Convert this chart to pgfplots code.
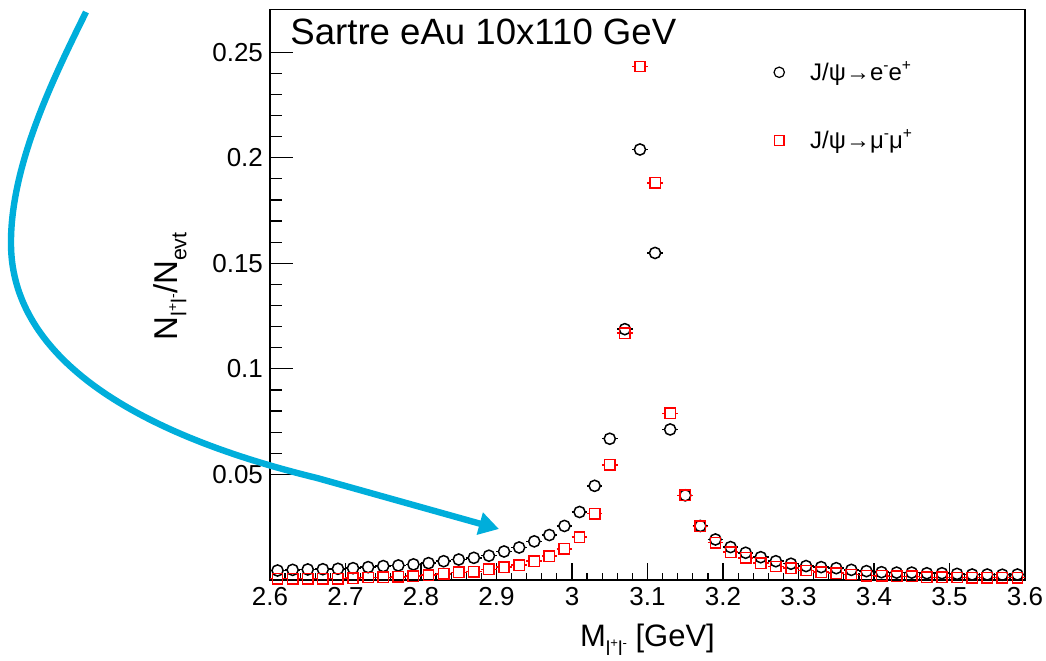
\documentclass[border=0pt]{standalone}
\usepackage{fontspec}
\setmainfont{Liberation Sans}
\usepackage{pgfplots}
\pgfplotsset{compat=1.18}
\usetikzlibrary{arrows.meta}
\definecolor{arrowblue}{RGB}{0,174,219}
\definecolor{rootred}{RGB}{255,0,0}
\newcommand\Sup[1]{\raisebox{0.42em}{\scalebox{0.65}{#1}}}
\newcommand\Sub[1]{\raisebox{-0.28em}{\scalebox{0.65}{#1}}}
\pgfdeclareplotmark{ostub}{%
  \pgfpathcircle{\pgfpointorigin}{\pgfplotmarksize}%
  \pgfusepathqstroke
  \pgfpathmoveto{\pgfqpoint{-3.9pt}{0pt}}\pgfpathlineto{\pgfqpoint{-\pgfplotmarksize}{0pt}}%
  \pgfpathmoveto{\pgfqpoint{\pgfplotmarksize}{0pt}}\pgfpathlineto{\pgfqpoint{3.9pt}{0pt}}%
  \pgfusepathqstroke}
\pgfdeclareplotmark{sqstub}{%
  \pgfpathrectanglecorners{\pgfqpoint{-\pgfplotmarksize}{-\pgfplotmarksize}}{\pgfqpoint{\pgfplotmarksize}{\pgfplotmarksize}}%
  \pgfusepathqstroke
  \pgfpathmoveto{\pgfqpoint{-3.9pt}{0pt}}\pgfpathlineto{\pgfqpoint{-\pgfplotmarksize}{0pt}}%
  \pgfpathmoveto{\pgfqpoint{\pgfplotmarksize}{0pt}}\pgfpathlineto{\pgfqpoint{3.9pt}{0pt}}%
  \pgfusepathqstroke}
\pgfplotstableread{
x y
2.61 0.0045
2.63 0.0048
2.65 0.0050
2.67 0.0051
2.69 0.0053
2.71 0.0056
2.73 0.0061
2.75 0.0066
2.77 0.0069
2.79 0.0074
2.81 0.0080
2.83 0.0089
2.85 0.0097
2.87 0.0105
2.89 0.0115
2.91 0.0135
2.93 0.0154
2.95 0.0183
2.97 0.0213
2.99 0.0256
3.01 0.0322
3.03 0.0446
3.05 0.0669
3.07 0.1188
3.09 0.2039
3.11 0.1549
3.13 0.0713
3.15 0.0401
3.17 0.0256
3.19 0.0192
3.21 0.0156
3.23 0.0129
3.25 0.0108
3.27 0.0089
3.29 0.0077
3.31 0.0066
3.33 0.0061
3.35 0.0056
3.37 0.0048
3.39 0.0042
3.41 0.0037
3.43 0.0035
3.45 0.0035
3.47 0.0032
3.49 0.0032
3.51 0.0029
3.53 0.0026
3.55 0.0026
3.57 0.0025
3.59 0.0026
}\eedata
\pgfplotstableread{
x y
2.61 0.0006
2.63 0.0006
2.65 0.0006
2.67 0.0006
2.69 0.0006
2.71 0.0009
2.73 0.0012
2.75 0.0013
2.77 0.0015
2.79 0.0018
2.81 0.0023
2.83 0.0029
2.85 0.0036
2.87 0.0040
2.89 0.0050
2.91 0.0061
2.93 0.0070
2.95 0.0089
2.97 0.0113
2.99 0.0148
3.01 0.0203
3.03 0.0314
3.05 0.0545
3.07 0.1169
3.09 0.2432
3.11 0.1881
3.13 0.0789
3.15 0.0401
3.17 0.0254
3.19 0.0177
3.21 0.0132
3.23 0.0105
3.25 0.0080
3.27 0.0064
3.29 0.0056
3.31 0.0045
3.33 0.0037
3.35 0.0032
3.37 0.0026
3.39 0.0021
3.41 0.0020
3.43 0.0017
3.45 0.0017
3.47 0.0013
3.49 0.0013
3.51 0.0012
3.53 0.0011
3.55 0.0011
3.57 0.0011
3.59 0.0011
}\mumudata
\begin{document}
\begin{tikzpicture}
\useasboundingbox (0,0) rectangle (523pt,330pt);
\begin{axis}[
  at={(135pt,40pt)}, anchor=south west,
  scale only axis, width=377.5pt, height=285.25pt,
  xmin=2.6, xmax=3.6, ymin=0, ymax=0.2702,
  xtick={2.6,2.7,2.8,2.9,3.0,3.1,3.2,3.3,3.4,3.5,3.6},
  xticklabels={2.6,2.7,2.8,2.9,3,3.1,3.2,3.3,3.4,3.5,3.6},
  ytick={0.05,0.1,0.15,0.2,0.25},
  yticklabels={0.05,0.1,0.15,0.2,0.25},
  scaled ticks=false,
  minor x tick num=4, minor y tick num=4,
  tick pos=left, tick align=inside,
  major tick length=11.5pt, minor tick length=6pt,
  xtick style={/pgfplots/major tick length=8.5pt,/pgfplots/minor tick length=3.5pt},
  axis line style={line width=0.8pt},
  every tick/.append style={line width=0.6pt, black},
  tick label style={font=\fontsize{13}{15}\selectfont},
  xlabel={M\Sub{l\Sup{+}l\Sup{-}} [GeV]},
  ylabel={N\Sub{l\Sup{+}l\Sup{-}}/N\Sub{evt}},
  x label style={font=\fontsize{15.5}{17}\selectfont, at={(axis description cs:0.5,-0.105)}, anchor=center},
  y label style={font=\fontsize{16.5}{18}\selectfont, at={(axis description cs:-0.1325,0.515)}, anchor=center},
  legend style={draw=none, fill=none, at={(axis description cs:0.666,0.917)}, anchor=north west,
    font=\fontsize{12}{14}\selectfont, row sep=19pt, inner sep=0pt},
  legend cell align=left,
  legend image code/.code={\draw[#1] plot coordinates {(0pt,0pt)}; \path[draw=none] (-3pt,0pt) -- (13.5pt,0pt);},
  clip=false,
]
\addplot[only marks, black, mark=ostub, mark size=2.8pt, line width=0.75pt, forget plot] table[x=x,y=y] {\eedata};
\addplot[only marks, rootred, mark=sqstub, mark size=2.6pt, line width=0.75pt, forget plot] table[x=x,y=y] {\mumudata};
\addlegendimage{only marks, black, mark=o, mark size=2.6pt, line width=0.6pt}
\addlegendentry{J/ψ→e\Sup{-}e\Sup{+}}
\addlegendimage{only marks, rootred, mark=square, mark size=2.4pt, line width=0.6pt}
\addlegendentry{J/ψ→μ\Sup{-}μ\Sup{+}}
\end{axis}
\begin{scope}[x=0.5pt, y=-0.5pt, shift={(0pt,330pt)}]
\node[anchor=base west, inner sep=0pt, font=\fontsize{18.3}{20}\selectfont] at (290,45) {Sartre eAu 10x110 GeV};
\draw[arrowblue, line width=3.2pt, -{Triangle[length=10pt,width=11pt]}]
  (86,12) .. controls (55,75) and (10,165) .. (11,245)
  .. controls (12,340) and (100,425) .. (317,478) -- (499,529);
\end{scope}
\end{tikzpicture}
\end{document}
